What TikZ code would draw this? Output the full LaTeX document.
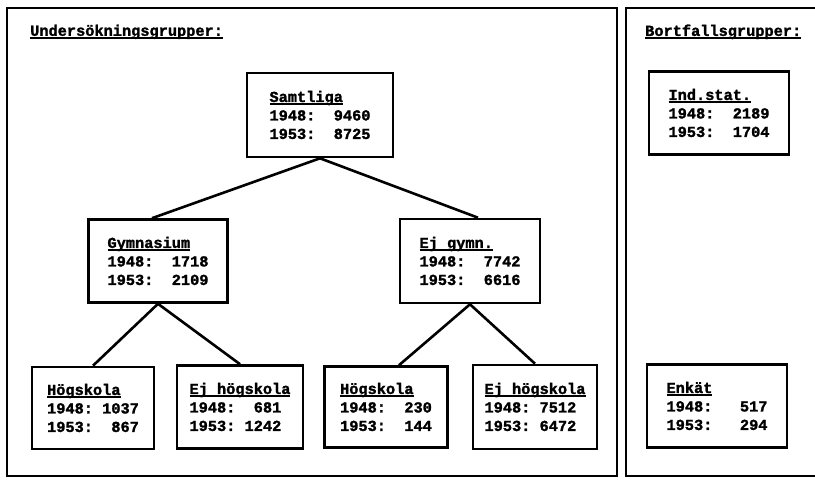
\documentclass[tikz,border=0pt]{standalone}
\usepackage{fontspec}
\setmainfont{Liberation Mono}[WordSpace={1,0,0}, BoldFeatures={FakeBold=1.6}]
\newlength\hdlen
\newcommand\hd[1]{\settowidth\hdlen{#1}#1\llap{\rule[-3.5pt]{\hdlen}{2pt}}}

\begin{document}
\begin{tikzpicture}[x=1pt, y=-1pt,
		grp/.style = {draw = black, line width = 2.6pt, rectangle, align = left,
			inner sep = 0pt, font = \fontsize{15.3}{18.5}\selectfont\bfseries},
		ttl/.style = {anchor = west, inner sep = 0pt, font = \fontsize{15.3}{18}\selectfont\bfseries},
		lnk/.style = {line width = 2.6pt}]
		\useasboundingbox (0,0) rectangle (815,480);
		\draw [line width = 2.8pt] (7,8) rectangle (617,476);
		\draw [line width = 2.8pt] (815,8) -- (626,8) -- (626,476) -- (815,476);
		\node [ttl] (undtitle) at (30,32) {\hd{Undersökningsgrupper:}};
		\node [ttl] (borttitle) at (645,32) {\hd{Bortfallsgrupper:}};
		
		\node [grp, minimum width = 146, minimum height = 84] (samtliga) at (320,115)
			{\hd{Samtliga}\\1948:~~9460\\1953:~~8725};
		\node [grp, minimum width = 139, minimum height = 83] (gymn) at (158,261)
			{\hd{Gymnasium}\\1948:~~1718\\1953:~~2109};
		\node [grp, minimum width = 140, minimum height = 84] (ejgymn) at (470,261)
			{\hd{Ej gymn.}\\1948:~~7742\\1953:~~6616};
		\node [grp, minimum width = 122, minimum height = 82] (hog1) at (93,408)
			{\hd{Högskola}\\1948:~1037\\1953:~~867};
		\node [grp, minimum width = 126, minimum height = 83] (ejhog1) at (240,407)
			{\hd{Ej högskola}\\1948:~~681\\1953:~1242};
		\node [grp, minimum width = 123, minimum height = 81] (hog2) at (386,407)
			{\hd{Högskola}\\1948:~~230\\1953:~~144};
		\node [grp, minimum width = 124, minimum height = 84] (ejhog2) at (535,407)
			{\hd{Ej högskola}\\1948:~7512\\1953:~6472};
		\node [grp, minimum width = 140, minimum height = 83] (indstat) at (719,113)
			{\hd{Ind.stat.}\\1948:~~2189\\1953:~~1704};
		\node [grp, minimum width = 140, minimum height = 83] (enkat) at (717,406)
			{\hd{Enkät}\\1948:~~~517\\1953:~~~294};
		
		\draw [lnk] (samtliga.south) -- ([xshift=-6pt]gymn.north);
		\draw [lnk] (samtliga.south) -- ([xshift=8pt]ejgymn.north);
		\draw [lnk] (gymn.south) -- (hog1.north);
		\draw [lnk] (gymn.south) -- (ejhog1.north);
		\draw [lnk] (ejgymn.south) -- ([xshift=13pt]hog2.north);
		\draw [lnk] (ejgymn.south) -- (ejhog2.north);
		
		\end{tikzpicture}
\end{document}
